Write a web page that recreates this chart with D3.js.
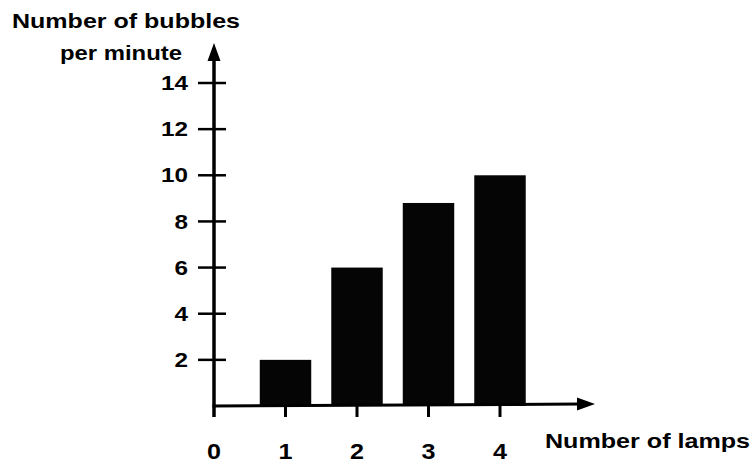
<!DOCTYPE html>
<html>
<head>
<meta charset="utf-8">
<script src="https://cdn.jsdelivr.net/npm/d3@7"></script>
<style>
  body { margin: 0; background: #fff; }
  svg text { font-family: "Liberation Sans", Arial, sans-serif; font-weight: bold; fill: #000; }
</style>
</head>
<body>
<div id="chart"></div>
<script>
// data
var lamps = [1, 2, 3, 4];
var bubbles = [2, 6, 8.8, 10];
var yTicks = [2, 4, 6, 8, 10, 12, 14];
var xTicks = [0, 1, 2, 3, 4];
var yTitle = ["Number of bubbles", "per minute"];
var xTitle = "Number of lamps";

var width = 756, height = 465;

var svg = d3.select("#chart").append("svg")
    .attr("width", width)
    .attr("height", height)
    .attr("viewBox", [0, 0, width, height]);

var x = d3.scaleLinear().domain([0, 4]).range([214, 500]),
    y = d3.scaleLinear().domain([0, 14]).range([406, 83]),
    barW = 0.36; // half bar width in x units

var data = lamps.map(function(d, i) { return {lamps: d, value: bubbles[i]}; });

// bars
svg.append("g")
    .attr("class", "bars")
  .selectAll("rect")
  .data(data)
  .enter().append("rect")
    .attr("x", function(d) { return x(d.lamps - barW); })
    .attr("width", function(d) { return x(d.lamps + barW) - x(d.lamps - barW); })
    .attr("y", function(d) { return y(d.value); })
    .attr("height", function(d) { return y(0) - y(d.value); })
    .attr("fill", "#050505");

// y axis: line with arrow, ticks crossing the line
var ax = x(0);
svg.append("line")
    .attr("x1", ax).attr("x2", ax)
    .attr("y1", y(0) + 11).attr("y2", 58)
    .attr("stroke", "#000").attr("stroke-width", 3.5);
svg.append("path")
    .attr("d", "M" + ax + ",43 L" + (ax - 6.5) + ",61 L" + (ax + 6.5) + ",61 Z")
    .attr("fill", "#000");

var yt = svg.append("g").attr("class", "y-ticks")
  .selectAll("g")
  .data(yTicks)
  .enter().append("g")
    .attr("transform", function(d) { return "translate(0," + y(d) + ")"; });
yt.append("line")
    .attr("x1", ax - 16).attr("x2", ax + 12)
    .attr("stroke", "#000").attr("stroke-width", 2.5);
yt.append("text")
    .attr("x", ax - 26)
    .attr("dy", "0.36em")
    .attr("text-anchor", "end")
    .style("font-size", "20px")
    .attr("textLength", function(d) { return String(d).length * 13.5; })
    .attr("lengthAdjust", "spacingAndGlyphs")
    .text(function(d) { return d; });

// x axis: line with arrow, ticks hanging below
svg.append("line")
    .attr("x1", ax - 1.5).attr("x2", 582)
    .attr("y1", y(0)).attr("y2", y(0) - 2)
    .attr("stroke", "#000").attr("stroke-width", 3);
svg.append("path")
    .attr("d", "M595," + (y(0) - 2) + " L577," + (y(0) - 8.5) + " L577," + (y(0) + 4.5) + " Z")
    .attr("fill", "#000");

var xt = svg.append("g").attr("class", "x-ticks")
  .selectAll("g")
  .data(xTicks)
  .enter().append("g")
    .attr("transform", function(d) { return "translate(" + x(d) + ",0)"; });
xt.filter(function(d) { return d > 0; }).append("line")
    .attr("y1", y(0)).attr("y2", y(0) + 11)
    .attr("stroke", "#000").attr("stroke-width", 3);
xt.append("text")
    .attr("y", 459)
    .attr("text-anchor", "middle")
    .style("font-size", "22px")
    .attr("textLength", 14)
    .attr("lengthAdjust", "spacingAndGlyphs")
    .text(function(d) { return d; });

// titles
svg.append("text")
    .attr("x", 12).attr("y", 28)
    .style("font-size", "21px")
    .attr("textLength", 228)
    .attr("lengthAdjust", "spacingAndGlyphs")
    .text(yTitle[0]);
svg.append("text")
    .attr("x", 60).attr("y", 60)
    .style("font-size", "21px")
    .attr("textLength", 122)
    .attr("lengthAdjust", "spacingAndGlyphs")
    .text(yTitle[1]);
svg.append("text")
    .attr("x", 545).attr("y", 448)
    .style("font-size", "21px")
    .attr("textLength", 205)
    .attr("lengthAdjust", "spacingAndGlyphs")
    .text(xTitle);
</script>
</body>
</html>
